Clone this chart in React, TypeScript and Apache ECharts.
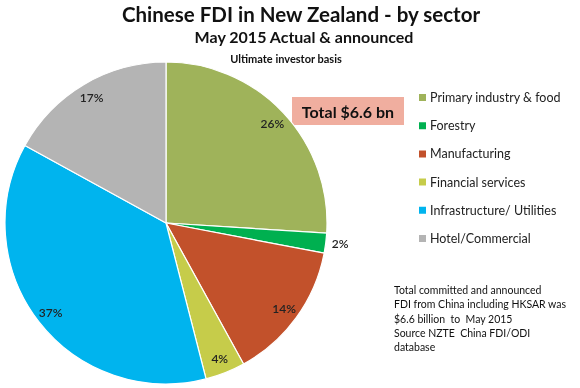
import React, { useEffect, useRef } from "react";
import * as echarts from "echarts";

const categories = [
  "Primary industry & food",
  "Forestry",
  "Manufacturing",
  "Financial services",
  "Infrastructure/ Utilities",
  "Hotel/Commercial",
];
const shares = [26, 2, 14, 4, 37, 17];
const colors = ["#9FB35A", "#00B050", "#C2512B", "#C6CC4A", "#00B4EE", "#B4B4B4"];
const outsideLabelIndex = 1;
const noteLines = [
  "Total committed and announced",
  "FDI from China including HKSAR was",
  "$6.6 billion  to  May 2015",
  "Source NZTE  China FDI/ODI",
  "database",
];

const FONT = "Lato, 'Open Sans', sans-serif";

export default function App() {
  const ref = useRef<HTMLDivElement>(null);
  useEffect(() => {
    if (!ref.current) return;
    const chart = echarts.init(ref.current, undefined, { renderer: "svg" });
    const center = [166, 223];
    const mainData = categories.map((name, i) => ({
      name,
      value: shares[i],
      itemStyle: { color: colors[i] },
      label:
        i === outsideLabelIndex
          ? { show: true, position: "outside", formatter: "{c}%" }
          : { show: false },
      labelLine: { show: false, length: 1, length2: 0 },
    }));
    const labelData = categories.map((name, i) => ({
      name,
      value: shares[i],
      label: { show: i !== outsideLabelIndex },
    }));
    chart.setOption({
      animation: false,
      textStyle: { fontFamily: FONT },
      legend: {
        orient: "vertical",
        left: 417,
        top: 91,
        padding: 0,
        itemWidth: 9,
        itemHeight: 9,
        itemGap: 15.2,
        icon: "rect",
        data: categories,
        selectedMode: false,
        textStyle: { fontFamily: FONT, fontSize: 12.5, color: "#222", padding: [0, 0, 0, -2] },
      },
      series: [
        {
          type: "pie",
          center,
          radius: 161,
          startAngle: 90,
          clockwise: true,
          silent: true,
          itemStyle: { borderColor: "#ffffff", borderWidth: 1.2 },
          label: { fontFamily: FONT, fontSize: 12, color: "#222", fontWeight: 600 },
          data: mainData,
        },
        {
          type: "pie",
          center,
          radius: [0, 286],
          startAngle: 90,
          clockwise: true,
          silent: true,
          itemStyle: { color: "rgba(0,0,0,0)", borderWidth: 0 },
          label: {
            position: "inside",
            formatter: "{c}%",
            fontFamily: FONT,
            fontSize: 12,
            color: "#222",
            fontWeight: 600,
          },
          labelLine: { show: false },
          data: labelData,
        },
      ],
      graphic: [
        {
          type: "text",
          x: 301,
          y: 14,
          style: {
            text: "Chinese FDI in New Zealand - by sector",
            font: `bold 20.5px ${FONT}`,
            fill: "#111",
            textAlign: "center",
            textVerticalAlign: "middle",
          },
        },
        {
          type: "text",
          x: 304,
          y: 36,
          style: {
            text: "May 2015 Actual & announced",
            font: `bold 16px ${FONT}`,
            fill: "#111",
            textAlign: "center",
            textVerticalAlign: "middle",
          },
        },
        {
          type: "text",
          x: 286,
          y: 58,
          style: {
            text: "Ultimate investor basis",
            font: `bold 11px ${FONT}`,
            fill: "#111",
            textAlign: "center",
            textVerticalAlign: "middle",
          },
        },
        {
          type: "rect",
          shape: { x: 292, y: 97, width: 112, height: 28 },
          style: { fill: "#F0AE9F" },
        },
        {
          type: "text",
          x: 348,
          y: 111,
          style: {
            text: "Total $6.6 bn",
            font: `bold 16px ${FONT}`,
            fill: "#111",
            textAlign: "center",
            textVerticalAlign: "middle",
          },
        },
        ...noteLines.map((t, i) => ({
          type: "text",
          x: 394,
          y: 290 + i * 14.3,
          style: {
            text: t,
            font: `10.5px ${FONT}`,
            fill: "#111",
            textAlign: "left",
            textVerticalAlign: "middle",
          },
        })),
      ],
    });
    return () => chart.dispose();
  }, []);
  return (
    <div
      ref={ref}
      style={{ position: "fixed", left: 0, top: 0, width: 580, height: 388 }}
    />
  );
}
